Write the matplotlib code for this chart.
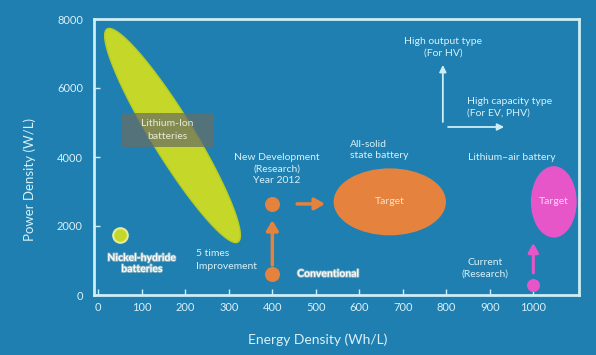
import numpy as np
import matplotlib
matplotlib.use("Agg")
import matplotlib.pyplot as plt
from matplotlib.patches import Ellipse, Polygon, Rectangle
import matplotlib.patheffects as pe

plt.rcParams['font.family'] = ['Lato', 'DejaVu Sans']

# ---- data ----
x_ticks = [0, 100, 200, 300, 400, 500, 600, 700, 800, 900, 1000]
y_ticks = [0, 2000, 4000, 6000, 8000]

liion_x = [20, 321]          # ends of the Li-ion band (energy density)
liion_y = [7710, 1536]       # ends of the Li-ion band (power density)

nickel_x = [50]
nickel_y = [1750]

conv_x = [400, 400]          # conventional, new development
conv_y = [600, 2640]

solid_center = (670, 2700)
solid_size = (255, 1900)

air_center = (1047, 2700)
air_size = (102, 2030)

air_now_x = [1000]
air_now_y = [290]

BG = '#1f7fb1'
LIGHT = '#cdeef6'
TXT = '#d8f1f8'
YG = '#c5d82a'
ORANGE = '#e5833e'
PINK = '#e656c8'

fig = plt.figure(figsize=(5.96, 3.55), dpi=100, facecolor=BG)
ax = fig.add_axes([94/596, 60/355, 485/596, 276/355])
ax.set_facecolor(BG)
ax.set_xlim(-10, 1105)
ax.set_ylim(0, 8000)

for s in ax.spines.values():
    s.set_color(LIGHT)
    s.set_linewidth(2)
ax.set_xticks(x_ticks)
ax.set_yticks(y_ticks)
ax.tick_params(direction='in', length=4, width=1, colors=LIGHT, labelsize=8,
               labelcolor=TXT)
ax.tick_params(axis='y', pad=8)
ax.tick_params(axis='x', pad=5)

ax.set_xlabel('Energy Density (Wh/L)', color=TXT, fontsize=10)
ax.set_ylabel('Power Density (W/L)', color=TXT, fontsize=9.5)
ax.xaxis.set_label_coords(0.462, -0.138)
ax.yaxis.set_label_coords(-0.12, 0.42)

# ---- Li-ion band: ellipse between two ends, built in display space ----
fig.canvas.draw()
T = ax.transData
p0 = T.transform((liion_x[0], liion_y[0]))
p1 = T.transform((liion_x[1], liion_y[1]))
c = (p0 + p1) / 2
d = p1 - p0
L = np.hypot(*d) / 2
u = d / np.hypot(*d)
v = np.array([-u[1], u[0]])
half_w = 21 * fig.dpi / 100
t = np.linspace(0, 2*np.pi, 200)
pts = c + np.outer(L*np.cos(t), u) + np.outer(half_w*np.sin(t), v)
pts_data = T.inverted().transform(pts)
ax.add_patch(Polygon(pts_data, closed=True, facecolor=YG, edgecolor='#b8cc20',
                     lw=1, zorder=2))
ax.add_patch(Rectangle((51, 4290), 214, 985, facecolor='#6a6e64', edgecolor='none',
                       alpha=0.72, zorder=3))
ax.text(158, 4780, 'Lithium-Ion\nbatteries', ha='center', va='center',
        fontsize=7.5, color='#e6ecd6', zorder=4, linespacing=1.5)

stroke = [pe.withStroke(linewidth=1.2, foreground='#8fb4c0')]

# ---- Nickel-hydride ----
ax.scatter(nickel_x, nickel_y, s=110, color=YG, edgecolor='#e4ee9a', lw=1.5, zorder=3)
ax.text(100, 900, 'Nickel-hydride\nbatteries', ha='center', va='center',
        fontsize=7.5, fontweight='bold', color='white', linespacing=1.3,
        path_effects=stroke)
ax.text(224, 1010, '5 times\nImprovement', ha='left', va='center',
        fontsize=7.5, color=TXT, linespacing=1.5)

# ---- conventional -> new development ----
ax.scatter(conv_x, conv_y, s=95, color=ORANGE, zorder=3)
ax.annotate('', xy=(conv_x[1], conv_y[1] - 470), xytext=(conv_x[0], conv_y[0] + 270),
            arrowprops=dict(arrowstyle='-|>,head_width=0.35,head_length=0.6',
                            color=ORANGE, lw=2.5, shrinkA=0, shrinkB=0))
ax.annotate('', xy=(521, conv_y[1]), xytext=(457, conv_y[1]),
            arrowprops=dict(arrowstyle='-|>,head_width=0.35,head_length=0.6',
                            color=ORANGE, lw=2.5, shrinkA=0, shrinkB=0))
ax.text(457, 600, 'Conventional', ha='left', va='center', fontsize=7.5,
        fontweight='bold', color='white', path_effects=stroke)
ax.text(411, 3650, 'New Development\n(Research)\nYear 2012', ha='center',
        va='center', fontsize=7.5, color=TXT, linespacing=1.35)

# ---- all-solid state target ----
ax.add_patch(Ellipse(solid_center, solid_size[0], solid_size[1], color=ORANGE, zorder=3))
ax.text(solid_center[0], solid_center[1], 'Target', ha='center', va='center',
        fontsize=7.5, color='#f8e0cc', zorder=4)
ax.text(578, 4200, 'All-solid\nstate battery', ha='left', va='center',
        fontsize=7.5, color=TXT, linespacing=1.4)

# ---- lithium-air ----
ax.add_patch(Ellipse(air_center, air_size[0], air_size[1], color=PINK, zorder=3))
ax.text(air_center[0], air_center[1], 'Target', ha='center', va='center',
        fontsize=7.5, color='#fbd8f2', zorder=4)
ax.text(951, 4000, 'Lithium\u2013air battery', ha='center', va='center',
        fontsize=7.5, color=TXT)
ax.scatter(air_now_x, air_now_y, s=70, color=PINK, zorder=3)
ax.annotate('', xy=(air_now_x[0], 1510), xytext=(air_now_x[0], 640),
            arrowprops=dict(arrowstyle='-|>,head_width=0.3,head_length=0.55',
                            color=PINK, lw=2.2, shrinkA=0, shrinkB=0))
ax.text(889, 780, 'Current\n(Research)', ha='center', va='center',
        fontsize=7.5, color=TXT, linespacing=1.4)

# ---- direction legend ----
ax.annotate('', xy=(792, 6667), xytext=(792, 5015),
            arrowprops=dict(arrowstyle='-|>,head_width=0.2,head_length=0.4',
                            color=LIGHT, lw=1.3, shrinkA=0, shrinkB=0))
ax.annotate('', xy=(933, 4870), xytext=(804, 4870),
            arrowprops=dict(arrowstyle='-|>,head_width=0.2,head_length=0.4',
                            color=LIGHT, lw=1.3, shrinkA=0, shrinkB=0))
ax.text(792, 7190, 'High output type\n(For HV)', ha='center', va='center',
        fontsize=7.5, color=TXT, linespacing=1.4)
ax.text(847, 5450, 'High capacity type\n(For EV, PHV)', ha='left', va='center',
        fontsize=7.5, color=TXT, linespacing=1.4)

fig.savefig('out.png', dpi=100, facecolor=BG)
